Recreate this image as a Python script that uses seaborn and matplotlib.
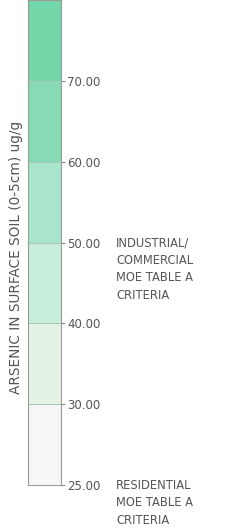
import matplotlib
matplotlib.use("Agg")
import matplotlib.pyplot as plt
import seaborn as sns
import pandas as pd
import numpy as np
from matplotlib.colors import ListedColormap, BoundaryNorm

# bands of the arsenic legend, top to bottom
band_low = [70, 60, 50, 40, 30, 25]
band_high = [80, 70, 60, 50, 40, 30]
band_colors = ["#74d7aa", "#86dbb5", "#a8e5cc", "#c7eedb", "#e4f3e5", "#f6f6f6"]
tick_values = [70, 60, 50, 40, 30, 25]
axis_label = "ARSENIC IN SURFACE SOIL (0-5cm) ug/g"
criteria = {50: "INDUSTRIAL/\nCOMMERCIAL\nMOE TABLE A\nCRITERIA",
            25: "RESIDENTIAL\nMOE TABLE A\nCRITERIA"}

sns.set_style("white")
plt.rcParams["font.family"] = ["DejaVu Sans"]

df = pd.DataFrame({"arsenic": band_low}, index=band_low)
bounds = sorted(band_low) + [max(band_high)]
cmap = ListedColormap(band_colors[::-1])
norm = BoundaryNorm(bounds, cmap.N)

fig = plt.figure(figsize=(2.43, 5.31), dpi=100)
ax = fig.add_axes([0.117, 0.0866, 0.132, 0.9134])
sns.heatmap(df, ax=ax, cmap=cmap, norm=norm, cbar=False,
            linewidths=0.6, linecolor="#a9c9b6", xticklabels=False)

# tick positions at the band boundaries (band i bottom edge = i + 1)
pos = [band_low.index(v) + 1 for v in tick_values]
ax.yaxis.tick_right()
ax.set_yticks(pos)
ax.set_yticklabels([f"{v:.2f}" for v in tick_values], rotation=0)
ax.tick_params(axis="y", right=True, length=3, width=0.8, color="#8a8a8a",
               labelsize=8.5, labelcolor="#555555", pad=2)
ax.set_ylim(len(band_low), 0)

for s in ax.spines.values():
    s.set_visible(True)
    s.set_color("#9a9a9a")
    s.set_linewidth(0.8)

ax.set_ylabel(axis_label, fontsize=9.8, color="#555555")
ax.yaxis.set_label_position("left")
ax.yaxis.set_label_coords(-0.17, 0.47)

for val, txt in criteria.items():
    y = band_low.index(val) + 1 - 0.08
    ax.text(2.73, y, txt, transform=ax.get_yaxis_transform(), ha="left",
            va="top", fontsize=8.3, color="#555555", linespacing=1.45)

fig.savefig("out.png", dpi=100)
